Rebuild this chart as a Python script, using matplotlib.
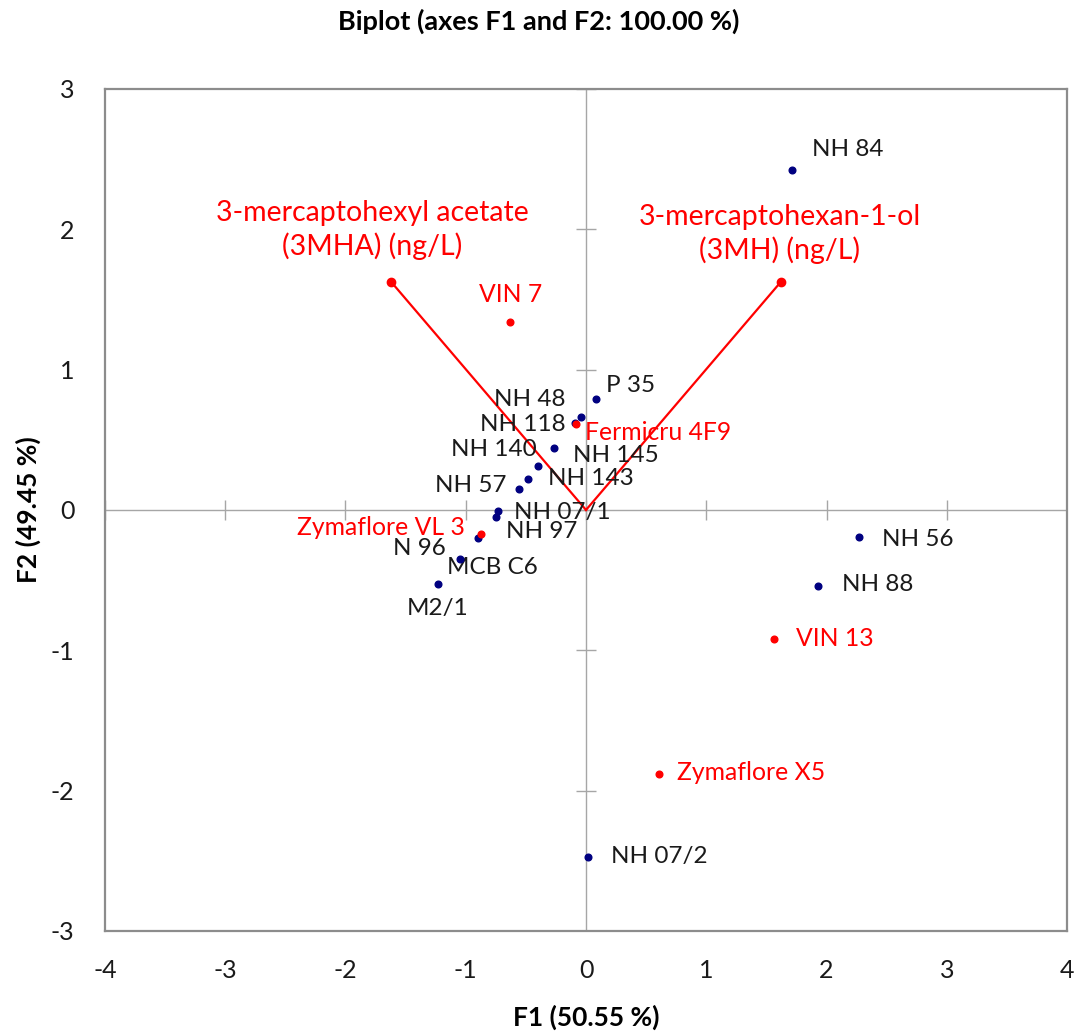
import matplotlib
matplotlib.use("Agg")
import matplotlib.pyplot as plt

# Observations (active) on F1/F2
obs_names = ["NH 84", "NH 56", "NH 88", "NH 07/2", "P 35", "NH 48", "NH 118",
             "NH 140", "NH 145", "NH 143", "NH 57", "NH 07/1", "NH 97",
             "N 96", "MCB C6", "M2/1"]
obs_f1 = [1.71, 2.27, 1.93, 0.02, 0.08, -0.04, -0.09, -0.27, -0.40, -0.48,
          -0.56, -0.73, -0.75, -0.90, -1.05, -1.23]
obs_f2 = [2.42, -0.19, -0.54, -2.47, 0.79, 0.66, 0.62, 0.44, 0.31, 0.22,
          0.15, -0.01, -0.05, -0.20, -0.35, -0.53]

# Supplementary observations (commercial strains)
sup_names = ["VIN 7", "Fermicru 4F9", "Zymaflore VL 3", "VIN 13", "Zymaflore X5"]
sup_f1 = [-0.63, -0.08, -0.87, 1.56, 0.61]
sup_f2 = [1.34, 0.61, -0.17, -0.92, -1.88]

# Variables
var_names = ["3-mercaptohexyl acetate\n(3MHA) (ng/L)",
             "3-mercaptohexan-1-ol\n(3MH) (ng/L)"]
var_f1 = [-1.62, 1.62]
var_f2 = [1.625, 1.625]

x_ticks = [-4, -3, -2, -1, 0, 1, 2, 3, 4]
y_ticks = [-3, -2, -1, 0, 1, 2, 3]

# label placement: (dx px, dy px, ha)
label_pos = {
    "NH 84": (20, 21, "left"), "NH 56": (23, -3, "left"),
    "NH 88": (24, 1, "left"), "NH 07/2": (23, 0, "left"),
    "P 35": (10, 14, "left"), "NH 48": (-16, 18, "right"),
    "NH 118": (-10, -2, "right"), "NH 140": (-17, -1, "right"),
    "NH 145": (35, 11, "left"), "NH 143": (20, 1, "left"),
    "NH 57": (-12, 3, "right"), "NH 07/1": (16, -1, "left"),
    "NH 97": (10, -15, "left"), "N 96": (-32, -10, "right"),
    "MCB C6": (-13, -8, "left"), "M2/1": (0, -24, "center"),
    "VIN 7": (0, 27, "center"), "Fermicru 4F9": (9, -8, "left"),
    "Zymaflore VL 3": (-17, 6, "right"), "VIN 13": (22, 1, "left"),
    "Zymaflore X5": (18, 1, "left"),
}
var_pos = [(-19, 22), (-1, 18)]

plt.rcParams["font.family"] = ["Lato", "DejaVu Sans"]
plt.rcParams["axes.unicode_minus"] = False

NAVY = "#000080"
RED = "#FF0000"
GRID = "#a6a6a6"

fig = plt.figure(figsize=(10.78, 10.32), dpi=100)
ax = fig.add_axes([0.0974, 0.0979, 0.8924, 0.8159])
ax.set_xlim(-4, 4)
ax.set_ylim(-3, 3)

# central axes with crossing ticks
ax.axhline(0, color=GRID, lw=1, zorder=1)
ax.axvline(0, color=GRID, lw=1, zorder=1)
ax.plot(x_ticks, [0] * len(x_ticks), ls="none", marker="|", ms=15,
        mew=1, color=GRID, zorder=1)
ax.plot([0] * len(y_ticks), y_ticks, ls="none", marker="_", ms=15,
        mew=1, color=GRID, zorder=1)

# variable vectors
for vx, vy, name, (dx, dy) in zip(var_f1, var_f2, var_names, var_pos):
    ax.plot([0, vx], [0, vy], color=RED, lw=1.6, zorder=2)
    ax.plot(vx, vy, "o", color=RED, ms=6, zorder=3)
    ax.annotate(name, (vx, vy), xytext=(dx, dy), textcoords="offset pixels",
                ha="center", va="bottom", color=RED, fontsize=20.5,
                linespacing=1.3)

# observations
ax.plot(obs_f1, obs_f2, "o", color=NAVY, ms=4.8, ls="none", zorder=4)
for x, y, n in zip(obs_f1, obs_f2, obs_names):
    dx, dy, ha = label_pos[n]
    ax.annotate(n, (x, y), xytext=(dx, dy), textcoords="offset pixels",
                ha=ha, va="center", color="#1a1a1a", fontsize=17.5)

ax.plot(sup_f1, sup_f2, "o", color=RED, ms=4.8, ls="none", zorder=5)
for x, y, n in zip(sup_f1, sup_f2, sup_names):
    dx, dy, ha = label_pos[n]
    ax.annotate(n, (x, y), xytext=(dx, dy), textcoords="offset pixels",
                ha=ha, va="center", color=RED, fontsize=17.8)

ax.set_xticks(x_ticks)
ax.set_yticks(y_ticks)
ax.tick_params(length=0, labelsize=18, colors="#1a1a1a")
ax.tick_params(axis="x", pad=20)
ax.tick_params(axis="y", pad=22)
for s in ax.spines.values():
    s.set_color("#8c8c8c")
    s.set_linewidth(1.6)

fig.text(0.5, 0.979, "Biplot (axes F1 and F2: 100.00 %)", ha="center",
         va="center", fontsize=19.5, fontweight="bold")
fig.text(0.5436, 0.014, "F1 (50.55 %)", ha="center", va="center",
         fontsize=19, fontweight="bold")
fig.text(0.026, 0.5058, "F2 (49.45 %)", ha="center", va="center",
         rotation=90, fontsize=19, fontweight="bold")

fig.savefig("out.png", dpi=100)
